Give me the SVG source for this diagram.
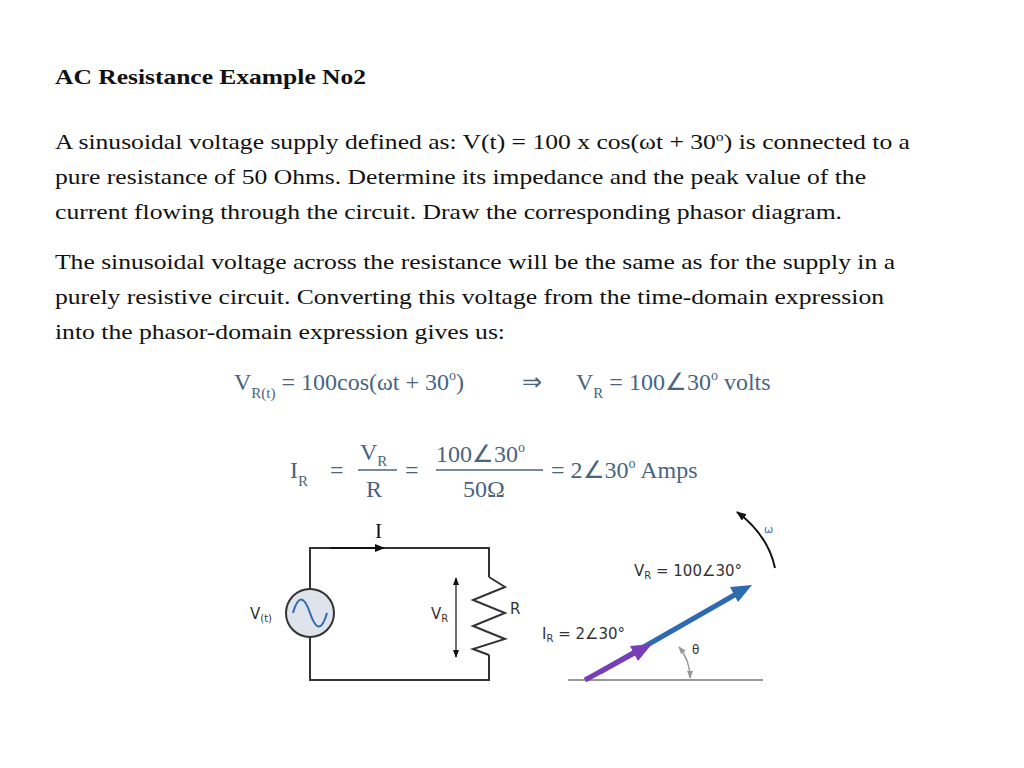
<svg xmlns="http://www.w3.org/2000/svg" width="1024" height="768" viewBox="0 0 1024 768">
<style>
.t{font-family:"Liberation Serif",serif;font-size:21px;fill:#111}
.m{font-family:"Liberation Serif",serif;fill:#4a6480}
.s{font-family:"DejaVu Sans",sans-serif;fill:#333}
.w{fill:none;stroke:#333;stroke-width:2}
</style>
<defs>
<marker id="a" markerWidth="10" markerHeight="8" refX="9" refY="4" orient="auto" markerUnits="userSpaceOnUse"><path d="M0,0L10,4L0,8z" fill="#111"/></marker>
<marker id="sa" markerWidth="8" markerHeight="6" refX="7" refY="3" orient="auto-start-reverse" markerUnits="userSpaceOnUse"><path d="M0,0L8,3L0,6z" fill="#111"/></marker>
<marker id="ga" markerWidth="8" markerHeight="6" refX="7" refY="3" orient="auto-start-reverse" markerUnits="userSpaceOnUse"><path d="M0,0L8,3L0,6z" fill="#999"/></marker>
</defs>
<rect width="1024" height="768" fill="#fff"/>
<text class="t" x="55" y="84" font-weight="bold" textLength="311" lengthAdjust="spacingAndGlyphs">AC Resistance Example No2</text>
<text class="t" x="55" y="149" textLength="855" lengthAdjust="spacingAndGlyphs">A sinusoidal voltage supply defined as: V(t) = 100 x cos(ωt + 30<tspan font-size="13" dy="-8">o</tspan><tspan dy="8">) is connected to a</tspan></text>
<text class="t" x="55" y="184" textLength="811" lengthAdjust="spacingAndGlyphs">pure resistance of 50 Ohms. Determine its impedance and the peak value of the</text>
<text class="t" x="55" y="219" textLength="787" lengthAdjust="spacingAndGlyphs">current flowing through the circuit. Draw the corresponding phasor diagram.</text>
<text class="t" x="55" y="269" textLength="840" lengthAdjust="spacingAndGlyphs">The sinusoidal voltage across the resistance will be the same as for the supply in a</text>
<text class="t" x="55" y="304" textLength="829" lengthAdjust="spacingAndGlyphs">purely resistive circuit. Converting this voltage from the time-domain expression</text>
<text class="t" x="55" y="339" textLength="450" lengthAdjust="spacingAndGlyphs">into the phasor-domain expression gives us:</text>
<g id="eq1" class="m" font-size="24">
<text x="234" y="390">V<tspan font-size="15" dy="8">R(t)</tspan><tspan dy="-8"> = 100cos(ωt + 30</tspan><tspan font-size="14" dy="-10">o</tspan><tspan dy="10">)</tspan></text>
<text x="522" y="390">⇒</text>
<text x="576" y="390">V<tspan font-size="15" dy="8">R</tspan><tspan dy="-8"> = 100∠30</tspan><tspan font-size="14" dy="-10">o</tspan><tspan dy="10"> volts</tspan></text>
</g>
<g id="eq2" class="m" font-size="24">
<text x="290" y="478">I<tspan font-size="15" dy="8">R</tspan></text>
<text x="330" y="478">=</text>
<text x="360" y="460">V<tspan font-size="15" dy="6">R</tspan></text>
<line x1="358" y1="470" x2="397" y2="470" stroke="#4a6480" stroke-width="1.5"/>
<text x="366" y="497">R</text>
<text x="405" y="478">=</text>
<text x="436" y="462">100∠30<tspan font-size="14" dy="-10">o</tspan></text>
<line x1="436" y1="470" x2="543" y2="470" stroke="#4a6480" stroke-width="1.5"/>
<text x="463" y="497">50Ω</text>
<text x="551" y="478">= 2∠30<tspan font-size="14" dy="-10">o</tspan><tspan dy="10"> Amps</tspan></text>
</g>
<g id="circuit">
<path class="w" d="M310,589V548H489V577M489,655V680H310V637"/>
<path class="w" d="M489,577L505,587L473,600L505,613L473,626L505,639L473,649L489,655"/>
<circle cx="310" cy="613" r="24" fill="#dfe4ec" stroke="#333" stroke-width="2"/>
<path d="M293,613C298,595 304,595 310,613S322,631 327,613" fill="none" stroke="#2e6ab0" stroke-width="2"/>
<line x1="330" y1="548" x2="384" y2="548" stroke="#111" stroke-width="2" marker-end="url(#a)"/>
<line x1="456" y1="578" x2="456" y2="657" stroke="#111" stroke-width="1.2" marker-start="url(#sa)" marker-end="url(#sa)"/>
<text class="t" x="375" y="538" font-size="17">I</text>
<text class="s" x="250" y="619" font-size="15">V<tspan font-size="10" dy="3">(t)</tspan></text>
<text class="s" x="431" y="619" font-size="15">V<tspan font-size="10" dy="3">R</tspan></text>
<text class="s" x="510" y="614" font-size="15">R</text>
</g>
<g id="phasor">
<line x1="568" y1="680" x2="763" y2="680" stroke="#999" stroke-width="2"/>
<line x1="600" y1="672" x2="738" y2="593" stroke="#2e6ab0" stroke-width="5"/>
<path d="M752,585L730,587L738,602z" fill="#2e6ab0"/>
<line x1="585" y1="680" x2="640" y2="650" stroke="#7a3db8" stroke-width="5"/>
<path d="M652,644L630,646L638,661z" fill="#7a3db8"/>
<path d="M679,647A48,48 0 0 1 690,678" fill="none" stroke="#999" stroke-width="1.5" marker-start="url(#ga)" marker-end="url(#ga)"/>
<path d="M775,568Q768,535 737,512" fill="none" stroke="#111" stroke-width="2" marker-end="url(#a)"/>
<text class="s" x="692" y="654" font-size="12">θ</text>
<text x="764" y="533" font-family="DejaVu Sans,sans-serif" font-size="11" fill="#4a6fb0">ω</text>
<text class="s" x="634" y="576" font-size="15">V<tspan font-size="10" dy="3">R</tspan><tspan dy="-3"> = 100∠30°</tspan></text>
<text class="s" x="542" y="639" font-size="15">I<tspan font-size="10" dy="3">R</tspan><tspan dy="-3"> = 2∠30°</tspan></text>
</g>
</svg>
